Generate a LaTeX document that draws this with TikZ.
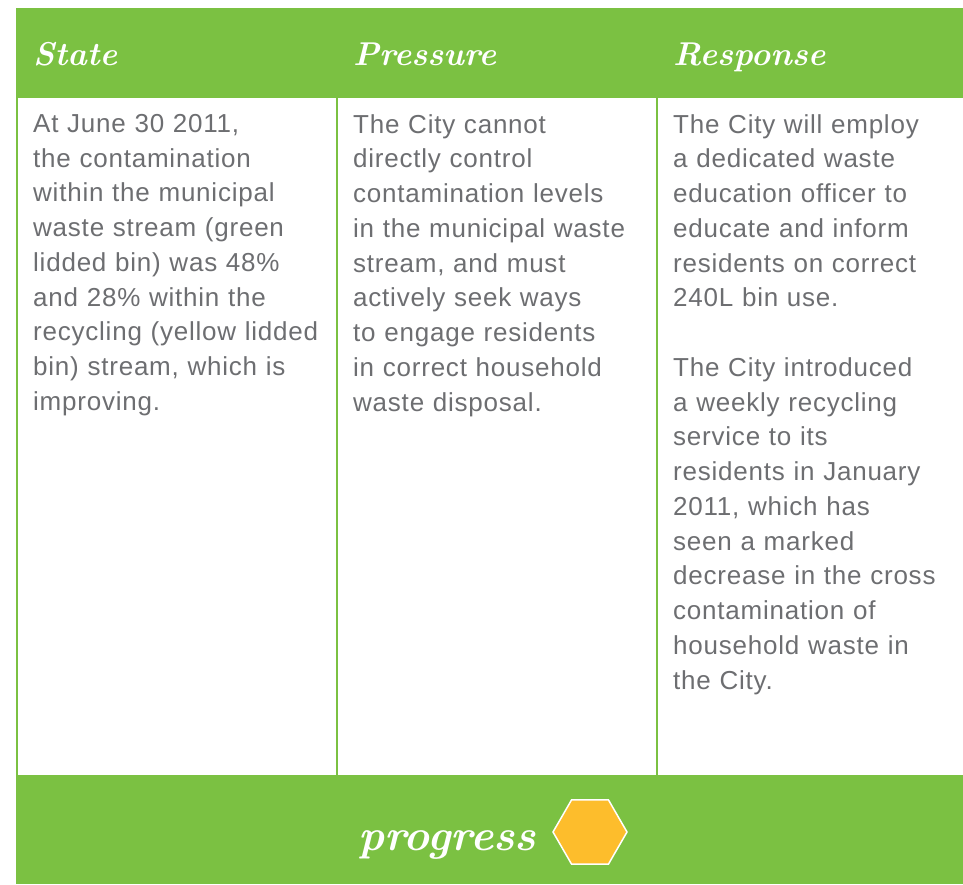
\documentclass[tikz,border=0pt]{standalone}
\usepackage{fontspec}
\usetikzlibrary{shapes.geometric}
\newfontfamily\bodyfont[LetterSpace=3]{Liberation Sans}
\definecolor{leaf}{HTML}{7BC142}
\definecolor{honey}{HTML}{FDBD2C}
\definecolor{ink}{HTML}{6D6E71}
\begin{document}
\begin{tikzpicture}[x=1pt,y=-1pt,
  bar/.style={fill=leaf,anchor=north west,inner sep=0,minimum width=947pt},
  head/.style={anchor=base west,inner sep=0,text=white,font=\fontsize{33}{36}\selectfont\bfseries\itshape},
  body/.style={anchor=north west,inner sep=0,text=ink,text width=320pt,align=left,font=\bodyfont\fontsize{26}{34.75}\selectfont},
  rule/.style={draw=leaf,line width=2pt}]
\useasboundingbox (0,0) rectangle (963,884);
\node[bar,minimum height=90pt](top) at (16,8) {};
\node[bar,minimum height=109pt](bottom) at (16,775) {};
\coordinate (a) at (17,98);
\coordinate (b) at (337,98);
\coordinate (c) at (657,98);
\foreach \c in {a,b,c}
  \draw[rule] (\c) -- (\c |- bottom.north);
\node[head](state) at (33,65) {State};
\node[head](pressure) at (353,65) {Pressure};
\node[head](response) at (673,65) {Response};
\node[body](statetext) at (33,114) {At June 30 2011,\\the contamination\\within the municipal\\waste stream (green\\lidded bin) was 48\%\\and 28\% within the\\recycling (yellow lidded\\bin) stream, which is\\improving.};
\node[body](pressuretext) at (353,114) {The City cannot\\directly control\\contamination levels\\in the municipal waste\\stream, and must\\actively seek ways\\to engage residents\\in correct household\\waste disposal.};
\node[body](responsetext) at (673,114) {The City will employ\\a dedicated waste\\education officer to\\educate and inform\\residents on correct\\240L bin use.\\[34.75pt]The City introduced\\a weekly recycling\\service to its\\residents in January\\2011, which has\\seen a marked\\decrease in the cross\\contamination of\\household waste in\\the City.};
\node[anchor=base west,inner sep=0,text=white,font=\fontsize{44}{48}\selectfont\bfseries\itshape](progress) at (358,850) {progress};
\node[regular polygon,regular polygon sides=6,minimum size=74pt,inner sep=0,fill=honey,draw=white,line width=1.5pt](hex) at (590,832) {};
\end{tikzpicture}
\end{document}
